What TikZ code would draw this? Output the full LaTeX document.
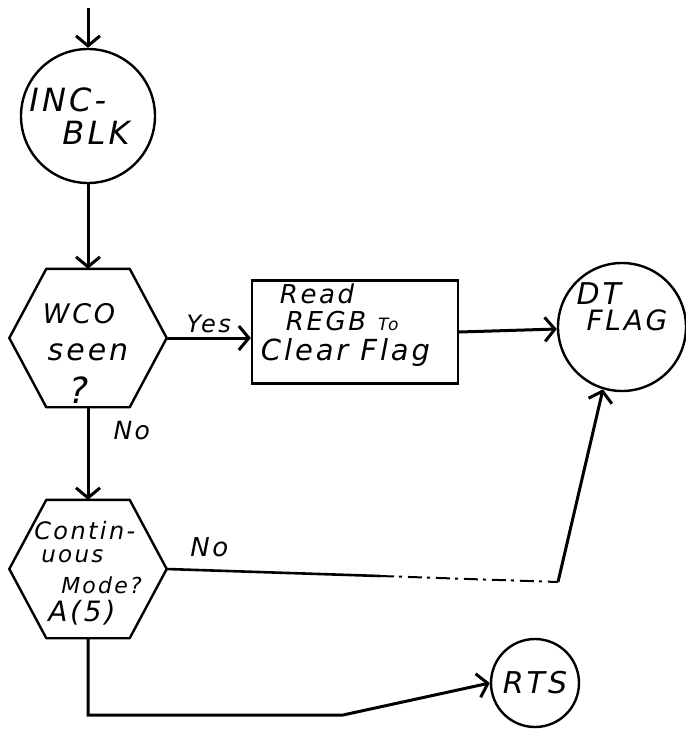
\documentclass[tikz,border=0pt]{standalone}
\usepackage{fontspec}
\setmainfont{DejaVu Sans}
\newfontfamily\hand[LetterSpace=10,ItalicFont={DejaVu Sans Oblique}]{DejaVu Sans}
\usetikzlibrary{arrows.meta,calc}
\newcommand\fs[2]{\fontsize{#1}{#2}\selectfont}
\begin{document}
\begin{tikzpicture}[x=1pt,y=-1pt,
  >={Straight Barb[length=10pt,width=24pt]},
  lbl/.style={font=\hand\itshape\fs{25}{30}, inner sep=0},
  circ/.style={circle, draw, line width=2.4pt, inner sep=0, align=left},
  hexbox/.style={rectangle, inner sep=0, align=left, minimum width=157pt, minimum height=138pt},
  hexline/.style={line width=2.4pt, line join=round},
  conn/.style={line width=3pt, ->},
  faint/.style={line width=2pt, dash pattern=on 14pt off 5pt on 3pt off 6pt}]
\useasboundingbox (0,0) rectangle (686,729);

% nodes
\coordinate (top) at (88,8);
\node[circ, minimum size=134pt, font=\hand\itshape\fs{32}{33}] (inc) at (88,116)
  {INC-\\\hspace*{33pt}BLK\hspace*{17pt}};
\node[hexbox, align=center, font=\hand\itshape\fs{27}{37}] (wco) at (88,338)
  {\rule{0pt}{50pt}WCO\hspace*{18pt}\\{\fs{30}{37}seen}\hspace*{18pt}\\[6pt]{\fs{36}{37}?}\hspace*{18pt}};
\node[draw, rectangle, line width=2.4pt, minimum width=206pt, minimum height=103pt,
  inner sep=0, align=left, font=\hand\itshape\fs{26}{27}] (reg) at (355,332)
  {\hspace*{19pt}Read\\\hspace*{25pt}REGB\hspace{12pt}{\fs{17}{27}To}\\[3pt]{\fs{29}{27}Clear Flag}\hspace*{19pt}\rule[-20pt]{0pt}{20pt}};
\node[circ, minimum size=128pt, font=\hand\itshape\fs{28}{26}] (dt) at (622,327)
  {{\fs{30}{26}DT}\\\hspace*{10pt}FLAG\rule[-40pt]{0pt}{40pt}};
\node[hexbox, font=\hand\itshape\fs{22}{23}] (cm) at (88,569)
  {{\fs{24}{23}\rule{0pt}{26pt}Contin-}\\\hspace*{7pt}{\fs{23}{23}uous}\\[8pt]\hspace*{27pt}Mode?\\[5pt]\hspace*{14pt}{\fs{28}{23}A(5)}};
\node[circ, minimum size=88pt, align=center, font=\hand\itshape\fs{30}{30}] (rts) at (535,683) {RTS};

% hexagon outlines
\foreach \n in {wco,cm}
  \draw[hexline] (\n.west) -- ([xshift=37pt]\n.north west) -- ([xshift=-37pt]\n.north east)
    -- (\n.east) -- ([xshift=-37pt]\n.south east) -- ([xshift=37pt]\n.south west) -- cycle;

% connectors
\draw[conn] (top) -- (inc);
\draw[conn] (inc) -- (wco);
\draw[conn] (wco.east) -- (wco.east -| reg.west)
  node[lbl, font=\hand\itshape\fs{24}{26}, midway, above=4pt] (yes) {Yes};
\draw[conn] (reg.east) -- (dt);
\draw[conn] (wco) -- (cm) node[lbl, pos=0.25, right=24pt] (no1) {No};

\coordinate (m1) at (380,576);
\coordinate (corner) at (558,582);
\draw[line width=2.6pt] (cm.east) -- (m1) node[lbl, font=\hand\itshape\fs{26}{30}, pos=0.2, above=12pt] (no2) {No};
\draw[faint] (m1) -- (corner);
\draw[conn] (corner) -- (dt.253);

\coordinate (b1) at (88,715);
\coordinate (b2) at (343,715);
\draw[conn] (cm.south) -- (b1) -- (b2) -- (rts.west);
\end{tikzpicture}
\end{document}
